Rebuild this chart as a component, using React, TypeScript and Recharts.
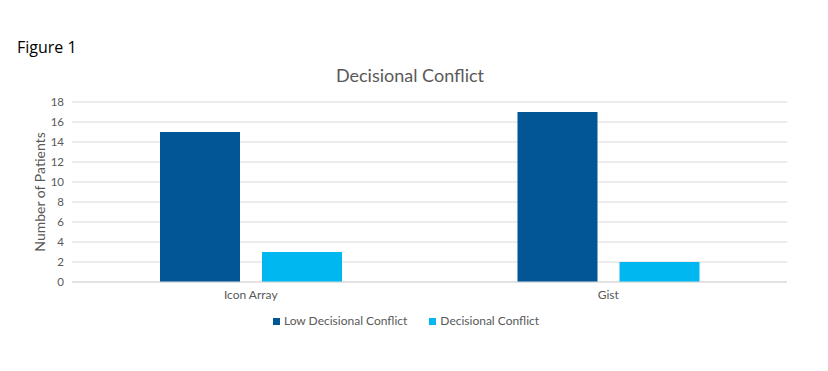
import { BarChart, Bar, XAxis, YAxis, CartesianGrid, Legend } from 'recharts';

const categories = ['Icon Array', 'Gist'];
const lowConflict = [15, 17];
const conflict = [3, 2];
const yTicks = [0, 2, 4, 6, 8, 10, 12, 14, 16, 18];
const seriesOrder = ['low', 'conflict'];

const data = categories.map((name, i) => ({
  name,
  low: lowConflict[i],
  conflict: conflict[i],
}));

const FONT = 'Lato, "Open Sans", sans-serif';
const GREY = '#595959';

export default function App() {
  return (
    <div style={{ position: 'absolute', left: 0, top: 0, width: 828, height: 371, background: '#fff' }}>
      <div style={{ position: 'absolute', left: 17, top: 36, fontFamily: '"Open Sans", sans-serif', fontSize: 16, color: '#000' }}>
        Figure 1
      </div>
      <div style={{ position: 'absolute', left: 0, width: 820, top: 64, textAlign: 'center', fontFamily: FONT, fontSize: 18, color: GREY }}>
        Decisional Conflict
      </div>
      <BarChart
        width={828}
        height={371}
        data={data}
        margin={{ top: 102, right: 41, left: 28, bottom: 54 }}
        barGap={22}
        barSize={80}
      >
        <CartesianGrid vertical={false} stroke="#d9d9d9" />
        <XAxis
          dataKey="name"
          tickLine={false}
          axisLine={{ stroke: '#d9d9d9' }}
          tick={{ fill: GREY, fontSize: 12, fontFamily: FONT }}
          height={20}
        />
        <YAxis
          width={44}
          domain={[0, 18]}
          ticks={yTicks}
          interval={0}
          tickLine={false}
          axisLine={false}
          tick={{ fill: GREY, fontSize: 11.5, fontFamily: FONT }}
          label={{ value: 'Number of Patients', angle: -90, position: 'insideLeft', offset: 12, style: { textAnchor: 'middle', fill: GREY, fontSize: 14, fontFamily: FONT } }}
        />
        <Legend
          iconType="square"
          iconSize={7}
          itemSorter={(item: any) => seriesOrder.indexOf(item.dataKey)}
          wrapperStyle={{ left: 0, width: 834, top: 313, fontFamily: FONT, fontSize: 12, color: GREY }}
          formatter={(v) => <span style={{ color: GREY, marginRight: 12 }}>{v}</span>}
        />
        <Bar dataKey="low" name="Low Decisional Conflict" fill="#035696" isAnimationActive={false} />
        <Bar dataKey="conflict" name="Decisional Conflict" fill="#00B7F0" isAnimationActive={false} />
      </BarChart>
    </div>
  );
}
